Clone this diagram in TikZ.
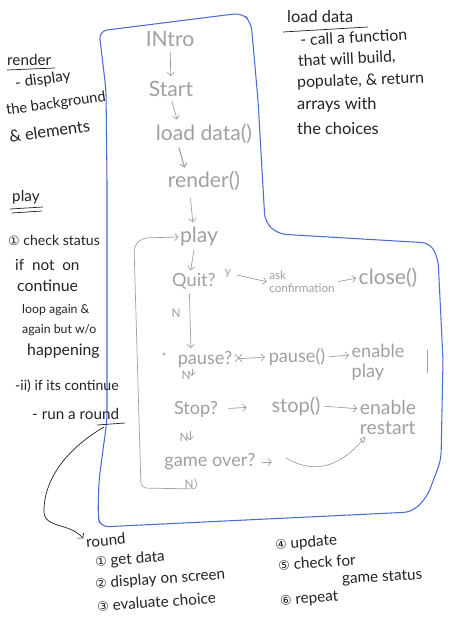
\documentclass[tikz,border=0pt]{standalone}
\usepackage{fontspec}
\setmainfont{Lato}
\newfontfamily\circfont{DejaVu Sans}
\usetikzlibrary{arrows.meta}
\definecolor{penblue}{RGB}{78,108,208}
\definecolor{pencil}{RGB}{160,160,160}
\definecolor{ink}{RGB}{35,35,35}
\tikzset{
  chart/.style={text=pencil, font=\fontsize{15.5}{17}\selectfont, inner sep=1pt},
  chartbig/.style={chart, font=\fontsize{18}{20}\selectfont},
  chartsm/.style={text=pencil, font=\fontsize{10}{11}\selectfont, inner sep=1pt},
  flow/.style={draw=pencil, line width=0.6pt, -{Straight Barb[length=3pt,width=6pt]}},
  pline/.style={draw=pencil, line width=0.6pt},
  note/.style={text=ink, font=\fontsize{12}{14}\selectfont, inner sep=0pt, anchor=west},
  notebig/.style={note, font=\fontsize{14}{16}\selectfont},
  listnote/.style={text=ink, font=\fontsize{13}{15}\selectfont, inner sep=0pt, anchor=west},
  inkline/.style={draw=ink, line width=0.6pt},
  outline/.style={draw=penblue, line width=0.9pt, rounded corners=7pt},
}
\newcommand{\cnum}[1]{{\circfont\fontsize{11}{12}\selectfont #1}}
\begin{document}
\begin{tikzpicture}[x=0.03cm,y=-0.03cm]
\useasboundingbox (0,0) rectangle (451,627);
\fill[white] (0,0) rectangle (451,627);

% blue L-shaped outline
\draw[outline] (99,31) -- (242,13) -- (251,22) -- (258,100) -- (265,222) -- (278,234)
  -- (430,243) -- (438,258) -- (443,360) -- (441,460) -- (427,497) -- (412,512)
  -- (100,527) -- (98,515) -- (99,480) -- (107,420) -- (107,180) -- (106,90) -- cycle;

% flow chart (pencil)
\node[chartbig] (intro) at (170,39) {INtro};
\node[chartbig] (start) at (171,89) {Start};
\node[chartbig] (load) at (204,134) {load data()};
\node[chartbig] (render) at (204,181) {render()};
\node[chartbig] (play) at (199,237) {play};
\node[chart] (quit) at (194,281) {Quit?};
\node[chartsm] (yes) at (228,274) {y};
\node[chartsm, align=left] (ask) at (302,282) {ask\\confirmation};
\node[chartbig] (close) at (388,278) {close()};
\node[chartsm] (nq) at (176,313) {N};
\node[chartsm] (star) at (164,357) {*};
\node[chart] (pause) at (205,359) {pause?};
\node[chart] (pausef) at (297,357) {pause()};
\node[chart, align=left] (enplay) at (378,362) {enable\\play};
\node[chartsm] (np) at (186,375) {N};
\node[chart] (stop) at (196,409) {Stop?};
\node[chart, font=\fontsize{17}{19}\selectfont] (stopf) at (296,406) {stop()};
\node[chart, align=left, font=\fontsize{16.5}{17}\selectfont] (enrestart) at (388,417) {enable\\restart};
\node[chartsm] (ns) at (184,437) {N};
\node[chart] (gameover) at (210,462) {game over?};
\node[chartsm] (ng) at (189,484) {N};

\draw[flow, shorten <=3pt, shorten >=3pt] (intro) -- (start);
\draw[flow, shorten <=3pt, shorten >=3pt] (start.south) -- ([xshift=6pt]start.south |- load.north);
\draw[flow, line width=0.9pt, shorten <=2pt, shorten >=2pt] ([xshift=-22pt]load.south) -- ([xshift=-16pt]render.north);
\draw[flow, shorten <=5pt, shorten >=3pt] ([xshift=-12pt]render.south) -- ([xshift=-5pt]play.north);
\draw[flow, shorten <=1pt, shorten >=1pt] ([xshift=-4pt]play.south) -- ([xshift=-3pt]quit.north);
\draw[flow, shorten <=4pt, shorten >=1pt] (yes.east) -- (ask.west);
\draw[flow, shorten <=2pt, shorten >=1pt] (ask.east) -- (close.west);
\draw[flow, shorten <=3pt, shorten >=1pt] ([xshift=-4pt]quit.south) -- ([xshift=-12pt]pause.north);
\draw[flow, shorten <=4pt, shorten >=2pt] (pause.east) -- (pausef.west);
\draw[flow, shorten <=2pt, shorten >=1pt] (pausef.east) -- ([yshift=6pt]enplay.west);
\draw[flow, shorten <=0pt, shorten >=4pt] (np.north east) -- (np.south east);
\draw[flow, shorten <=8pt, shorten >=20pt] (stop.east) -- (stopf.west);
\draw[flow, shorten <=2pt, shorten >=1pt] (stopf.east) -- ([yshift=7pt]enrestart.west);
\draw[flow, shorten <=0pt, shorten >=2pt] (ns.north east) -- (ns.south east);
\draw[flow, shorten <=4pt, shorten >=1pt] (gameover.east) -- ++(16,0);
\coordinate (gc) at (286,458);
\draw[pline, -{Triangle[open,length=5pt,width=5pt]}] (gc) .. controls (320,478) and (345,460) .. ([xshift=6pt,yshift=-1pt]enrestart.south west);
% loop back to play
\draw[flow, rounded corners=5pt] (ng.north east) -- (198,489) -- (141,488) -- (134,246) -- (142,238) -- (play.west);
% extra marks
\draw[pline] (427,350) -- (427,373);
\draw[pline] (235,354) -- (242,362) (235,362) -- (242,354);

% load data notes
\node[notebig] (ldt) at (287,17) {load data};
\draw[inkline] (283,32) -- (368,27);
\node[note, font=\fontsize{13.5}{15}\selectfont, rotate=3] (ld1) at (300,40) {- call a function};
\node[note, font=\fontsize{13.5}{15}\selectfont, rotate=3] (ld2) at (298,62) {that will build,};
\node[note, font=\fontsize{13.5}{15}\selectfont, rotate=2] (ld3) at (297,83) {populate, \& return};
\node[note, font=\fontsize{14}{15}\selectfont] (ld4) at (297,105) {arrays with};
\node[note, font=\fontsize{14}{15}\selectfont] (ld5) at (297,129) {the choices};

% render notes
\node[note, font=\fontsize{13}{15}\selectfont] (rt) at (7,60) {render};
\draw[inkline] (7,70) -- (55,68);
\node[note, font=\fontsize{13}{15}\selectfont, rotate=8] (r1) at (15,84) {- display};
\node[note, font=\fontsize{12.5}{14}\selectfont, rotate=8] (r2) at (6,111) {the background};
\node[note, font=\fontsize{14}{15}\selectfont, rotate=8] (r3) at (9,137) {\& elements};

% play notes
\node[note, font=\fontsize{13}{15}\selectfont] (pt) at (12,197) {play};
\draw[inkline] (10,209) -- (43,207);
\draw[inkline] (12,213) -- (42,211);
\node[note] (p1) at (8,240) {\cnum{①} check status};
\node[note, font=\fontsize{13}{15}\selectfont] (p2) at (15,265) {if\ \ not\ \ on};
\node[note, font=\fontsize{13.5}{15}\selectfont] (p3) at (17,286) {continue};
\node[note, font=\fontsize{10.5}{12}\selectfont] (p4) at (22,310) {loop again \&};
\node[note, font=\fontsize{10.5}{12}\selectfont] (p5) at (22,330) {again but w/o};
\node[note, font=\fontsize{13.5}{15}\selectfont] (p6) at (27,351) {happening};
\node[note] (p7) at (15,386) {-ii) if its continue};
\node[note, font=\fontsize{13}{15}\selectfont] (p8) at (32,414) {- run a round};
\draw[inkline] (97,425) -- (125,423);
\coordinate (rs) at (104,427);

% round list
\node[listnote, rotate=5] (rnd) at (86,542) {round};
\draw[inkline, -{Straight Barb[length=3pt,width=7pt]}] (rs) .. controls (78,442) and (46,470) .. (44,508)
  .. controls (42,530) and (68,521) .. ([xshift=-2pt,yshift=-2pt]rnd.north west);
\node[listnote, rotate=4] (b1) at (95,562) {\cnum{①} get data};
\node[listnote, rotate=4] (b2) at (95,584) {\cnum{②} display on screen};
\node[listnote, rotate=4] (b3) at (97,606) {\cnum{③} evaluate choice};
\node[listnote, rotate=4] (b4) at (275,545) {\cnum{④} update};
\node[listnote, rotate=4] (b5) at (278,565) {\cnum{⑤} check for};
\node[listnote, rotate=3] (b6) at (342,580) {game status};
\node[listnote, rotate=5] (b7) at (280,602) {\cnum{⑥} repeat};
\end{tikzpicture}
\end{document}
